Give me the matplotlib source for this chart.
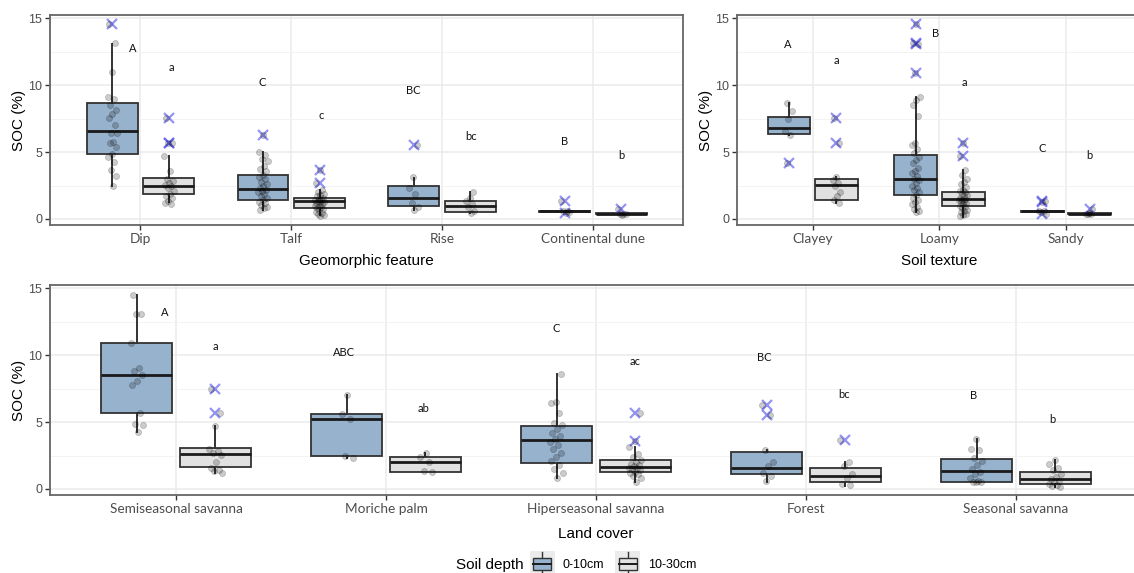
import matplotlib
matplotlib.use("Agg")
import matplotlib.pyplot as plt
import numpy as np
from matplotlib.legend_handler import HandlerBase
from matplotlib.patches import Rectangle, Patch
from matplotlib.lines import Line2D

# ---------------- DATA ----------------
# box stats: [whisker low, q1, median, q3, whisker high]
geo_cats = ["Dip", "Talf", "Rise", "Continental dune"]
geo_box_0_10 = [[2.49, 4.85, 6.55, 8.64, 13.1], [0.67, 1.44, 2.24, 3.29, 4.98],
                [0.67, 1.00, 1.54, 2.49, 3.04], [0.55, 0.55, 0.58, 0.60, 0.60]]
geo_box_10_30 = [[1.29, 1.87, 2.49, 3.09, 4.70], [0.30, 0.85, 1.34, 1.59, 2.17],
                 [0.42, 0.55, 1.00, 1.34, 2.04], [0.37, 0.37, 0.39, 0.41, 0.42]]
geo_out_0_10 = [[14.54], [6.27], [5.53], [1.34, 0.42]]
geo_out_10_30 = [[7.52, 5.70, 5.65], [3.66, 2.66], [], [0.75]]
geo_pts_0_10 = [
    [14.54, 13.12, 10.95, 9.14, 8.94, 8.51, 8.14, 7.84, 7.52, 7.02, 6.45, 6.4, 5.78, 5.65, 5.4,
     4.85, 4.66, 4.23, 3.66, 3.24, 2.49],
    [6.27, 4.98, 4.75, 4.5, 4.3, 3.95, 3.75, 3.55, 3.3, 3.1, 2.95, 2.8, 2.6, 2.45, 2.3, 2.2, 2.1,
     2.0, 1.9, 1.75, 1.6, 1.45, 1.3, 1.2, 1.05, 0.9, 0.8, 0.67],
    [5.53, 3.1, 2.34, 1.87, 1.2, 0.9, 0.67],
    [1.34, 0.6, 0.58, 0.55, 0.42]]
geo_pts_10_30 = [
    [7.52, 5.7, 5.65, 4.7, 3.55, 3.0, 2.85, 2.7, 2.55, 2.45, 2.3, 2.1, 1.9, 1.75, 1.55, 1.35, 1.2, 1.12],
    [3.66, 2.66, 2.17, 2.0, 1.9, 1.8, 1.7, 1.6, 1.5, 1.45, 1.4, 1.35, 1.3, 1.25, 1.2, 1.1, 1.0,
     0.95, 0.9, 0.85, 0.75, 0.65, 0.55, 0.45, 0.35, 0.3, 0.25],
    [2.04, 1.6, 1.35, 1.1, 0.9, 0.6, 0.45],
    [0.75, 0.4, 0.38, 0.35, 0.3]]
geo_up_labels = ["A", "C", "BC", "B"]
geo_up_y = [12.75, 10.18, 9.63, 5.77]
geo_lo_labels = ["a", "c", "bc", "b"]
geo_lo_y = [11.3, 7.72, 6.15, 4.73]

tex_cats = ["Clayey", "Loamy", "Sandy"]
tex_box_0_10 = [[6.30, 6.35, 6.82, 7.64, 8.64], [0.55, 1.77, 2.96, 4.78, 9.14],
                [0.55, 0.55, 0.58, 0.60, 0.60]]
tex_box_10_30 = [[1.20, 1.42, 2.54, 2.96, 3.10], [0.17, 1.00, 1.47, 2.04, 3.66],
                 [0.36, 0.37, 0.39, 0.41, 0.45]]
tex_out_0_10 = [[4.21], [14.54, 13.12, 13.10, 10.93], [1.34, 1.30, 0.35]]
tex_out_10_30 = [[7.52, 5.65], [5.68, 4.73], [0.72]]
tex_pts_0_10 = [
    [8.64, 8.1, 7.5, 6.6, 6.3, 4.21],
    [14.54, 13.12, 13.1, 10.93, 9.14, 8.9, 8.5, 7.7, 5.7, 5.5, 5.2, 4.9, 4.6, 4.4, 4.2, 3.8, 3.6,
     3.4, 3.2, 3.0, 2.9, 2.7, 2.5, 2.3, 2.2, 2.0, 1.8, 1.6, 1.4, 1.3, 1.1, 0.9, 0.75, 0.6, 0.55],
    [1.34, 1.3, 0.6, 0.58, 0.55, 0.35]]
tex_pts_10_30 = [
    [7.52, 5.65, 3.1, 2.9, 2.7, 2.5, 2.0, 1.7, 1.4, 1.2],
    [5.68, 4.73, 3.66, 3.3, 3.0, 2.8, 2.6, 2.4, 2.2, 2.1, 2.0, 1.9, 1.8, 1.7, 1.6, 1.5, 1.45, 1.4,
     1.35, 1.3, 1.2, 1.1, 1.0, 0.9, 0.8, 0.7, 0.6, 0.5, 0.4, 0.3, 0.2],
    [0.72, 0.45, 0.4, 0.38, 0.36]]
tex_up_labels = ["A", "B", "C"]
tex_up_y = [13.07, 13.87, 5.28]
tex_lo_labels = ["a", "a", "b"]
tex_lo_y = [11.87, 10.2, 4.73]

land_cats = ["Semiseasonal savanna", "Moriche palm", "Hiperseasonal savanna", "Forest",
             "Seasonal savanna"]
land_box_0_10 = [[4.27, 5.71, 8.49, 10.9, 14.53], [2.28, 2.48, 5.21, 5.59, 7.05],
                 [0.79, 1.96, 3.65, 4.72, 8.62], [0.55, 1.09, 1.54, 2.76, 2.90],
                 [0.55, 0.55, 1.37, 2.23, 3.72]]
land_box_10_30 = [[1.17, 1.61, 2.61, 3.08, 4.69], [1.29, 1.29, 2.04, 2.36, 2.66],
                  [0.55, 1.24, 1.61, 2.14, 3.15], [0.25, 0.50, 0.99, 1.59, 2.04],
                  [0.17, 0.35, 0.74, 1.24, 2.16]]
land_out_0_10 = [[], [], [], [6.26, 5.51], []]
land_out_10_30 = [[7.50, 5.69], [], [5.71, 3.58], [3.65], []]
land_pts_0_10 = [
    [14.53, 13.1, 13.05, 10.9, 9.05, 8.8, 8.5, 8.05, 7.75, 5.7, 4.85, 4.8, 4.27],
    [7.05, 5.6, 5.2, 2.5, 2.28],
    [8.62, 6.5, 6.4, 5.7, 4.9, 4.75, 4.5, 4.2, 3.95, 3.7, 3.5, 3.3, 3.0, 2.7, 2.4, 2.1, 1.8, 1.5,
     1.2, 0.79],
    [6.26, 5.51, 2.9, 2.0, 1.7, 1.2, 1.0, 0.6],
    [3.72, 3.0, 2.9, 2.3, 2.1, 1.8, 1.5, 1.3, 1.1, 0.8, 0.6, 0.55, 0.55, 0.55]]
land_pts_10_30 = [
    [7.5, 5.69, 4.69, 2.95, 2.85, 2.7, 2.55, 2.05, 1.6, 1.45, 1.35, 1.17],
    [2.7, 2.4, 2.0, 1.35, 1.3],
    [5.71, 3.58, 3.15, 2.6, 2.4, 2.2, 2.05, 1.9, 1.8, 1.7, 1.6, 1.55, 1.5, 1.4, 1.3, 1.2, 1.1,
     0.95, 0.8, 0.55],
    [3.65, 2.04, 1.7, 1.1, 0.8, 0.4, 0.3],
    [2.16, 1.9, 1.6, 1.4, 1.1, 0.9, 0.75, 0.6, 0.5, 0.4, 0.3, 0.2, 0.17]]
land_up_labels = ["A", "ABC", "C", "BC", "B"]
land_up_y = [13.17, 10.23, 11.97, 9.86, 7.0]
land_lo_labels = ["a", "ab", "ac", "bc", "b"]
land_lo_y = [10.68, 6.01, 9.54, 7.06, 5.19]

depth_labels = ["0-10cm", "10-30cm"]
y_ticks = [0, 5, 10, 15]

# ---------------- STYLE ----------------
BLUE = "#97b2cd"
GREY = "#e1e1e1"
EDGE = "#333333"
OUT_C = (0.3, 0.3, 0.95, 0.6)
TICK_C = "#4d4d4d"
CAL = ["Lato", "DejaVu Sans"]
ARI = ["Liberation Sans", "DejaVu Sans"]

W, H = 1134, 573
fig = plt.figure(figsize=(W / 100, H / 100), dpi=100)


def px_axes(left, top, right, bottom):
    return fig.add_axes([left / W, 1 - bottom / H, (right - left) / W, (bottom - top) / H])


def draw_panel(ax, cats, box_a, box_b, out_a, out_b, pts_a, pts_b,
               up_lab, up_y, lo_lab, lo_y, up_off, lo_off, xlabel, xlabelpad):
    n = len(cats)
    pos = np.arange(1, n + 1)
    off = 0.1875
    for boxes, outs, pts, o, fill in [(box_a, out_a, pts_a, -off, BLUE),
                                      (box_b, out_b, pts_b, off, GREY)]:
        st = [dict(whislo=b[0], q1=b[1], med=b[2], q3=b[3], whishi=b[4], fliers=f)
              for b, f in zip(boxes, outs)]
        ax.bxp(st, positions=pos + o, widths=0.3375, patch_artist=True, showcaps=False,
               manage_ticks=False,
               boxprops=dict(facecolor=fill, edgecolor=EDGE, linewidth=1.3),
               medianprops=dict(color="#1a1a1a", linewidth=2.0),
               whiskerprops=dict(color=EDGE, linewidth=1.4),
               flierprops=dict(marker="x", markeredgecolor=OUT_C, markersize=6.5,
                               markeredgewidth=1.6, linestyle="none"),
               zorder=2)
        for i, vals in enumerate(pts):
            k = np.arange(len(vals))
            jit = (((k * 0.618034 + 0.31 * i + 0.2) % 1.0) * 2 - 1) * 0.032
            ax.scatter(pos[i] + o + jit, vals, s=19, color="black", alpha=0.2,
                       linewidths=0.6, zorder=3)
    for i in range(n):
        ax.text(pos[i] + up_off[i], up_y[i], up_lab[i], ha="center", va="center",
                fontsize=8, family=CAL, color="#111111")
        ax.text(pos[i] + lo_off[i], lo_y[i], lo_lab[i], ha="center", va="center",
                fontsize=8, family=CAL, color="#111111")
    ax.set_xlim(0.4, n + 0.6)
    ax.set_ylim(-0.45, 15.24)
    ax.set_xticks(pos)
    ax.set_xticklabels(cats, family=CAL, fontsize=9.8, color=TICK_C)
    ax.set_yticks(y_ticks)
    ax.set_yticklabels([str(v) for v in y_ticks], family=ARI, fontsize=9, color=TICK_C)
    ax.set_yticks([2.5, 7.5, 12.5], minor=True)
    ax.tick_params(axis="y", which="minor", length=0)
    ax.tick_params(axis="both", which="major", length=3.5, width=1.0, color="#333333", pad=2)
    ax.grid(True, which="major", color="#ebebeb", linewidth=1.1, zorder=0)
    ax.grid(True, which="minor", axis="y", color="#f3f3f3", linewidth=0.7, zorder=0)
    ax.set_axisbelow(True)
    for s in ax.spines.values():
        s.set_color("#666666")
        s.set_linewidth(1.3)
    ax.set_ylabel("SOC (%)", family=ARI, fontsize=11, color="black", labelpad=1.5)
    ax.set_xlabel(xlabel, family=ARI, fontsize=11, color="black", labelpad=xlabelpad)


ax1 = px_axes(50, 15, 683.3, 225)
draw_panel(ax1, geo_cats, geo_box_0_10, geo_box_10_30, geo_out_0_10, geo_out_10_30,
           geo_pts_0_10, geo_pts_10_30, geo_up_labels, geo_up_y, geo_lo_labels, geo_lo_y,
           [-0.05, -0.19, -0.19, -0.19], [0.205, 0.2, 0.19, 0.19], "Geomorphic feature", 6.5)

ax2 = px_axes(736.7, 15, 736.7 + 3.2 * 126.7, 225)
draw_panel(ax2, tex_cats, tex_box_0_10, tex_box_10_30, tex_out_0_10, tex_out_10_30,
           tex_pts_0_10, tex_pts_10_30, tex_up_labels, tex_up_y, tex_lo_labels, tex_lo_y,
           [-0.2, -0.03, -0.185], [0.19, 0.2, 0.18], "Soil texture", 6.5)

ax3 = px_axes(50, 285, 50 + 5.2 * 210, 495)
draw_panel(ax3, land_cats, land_box_0_10, land_box_10_30, land_out_0_10, land_out_10_30,
           land_pts_0_10, land_pts_10_30, land_up_labels, land_up_y, land_lo_labels, land_lo_y,
           [-0.056, -0.2, -0.19, -0.2, -0.2], [0.19, 0.18, 0.185, 0.18, 0.175], "Land cover", 9)


class BoxKey(HandlerBase):
    def create_artists(self, legend, orig, xd, yd, w, h, fontsize, trans):
        fc = orig.get_facecolor()
        x0, y0 = -xd, -yd
        bg = Rectangle((x0, y0), w, h, facecolor="#ebebeb", edgecolor="none", transform=trans)
        cx = x0 + w / 2
        bw = w * 0.72
        wl = Line2D([cx, cx], [y0 + h * 0.06, y0 + h * 0.94], color=EDGE, lw=1.0,
                    transform=trans)
        box = Rectangle((cx - bw / 2, y0 + h * 0.26), bw, h * 0.48, facecolor=fc,
                        edgecolor=EDGE, lw=1.0, transform=trans)
        med = Line2D([cx - bw / 2, cx + bw / 2], [y0 + h / 2] * 2, color="#1a1a1a", lw=1.4,
                     transform=trans)
        return [bg, wl, box, med]


handles = [Patch(facecolor=BLUE), Patch(facecolor=GREY)]
leg = fig.legend(handles, depth_labels, loc="center", bbox_to_anchor=(613 / W, 1 - 564 / H),
                 ncol=2, frameon=False, handler_map={Patch: BoxKey()},
                 prop=dict(family=ARI, size=9), handlelength=2.0, handleheight=2.9,
                 handletextpad=0.6, columnspacing=0.9, borderpad=0.0)
fig.text(490 / W, 1 - 565 / H, "Soil depth", ha="center", va="center", family=ARI,
         fontsize=11)

fig.savefig("out.png", dpi=100)
